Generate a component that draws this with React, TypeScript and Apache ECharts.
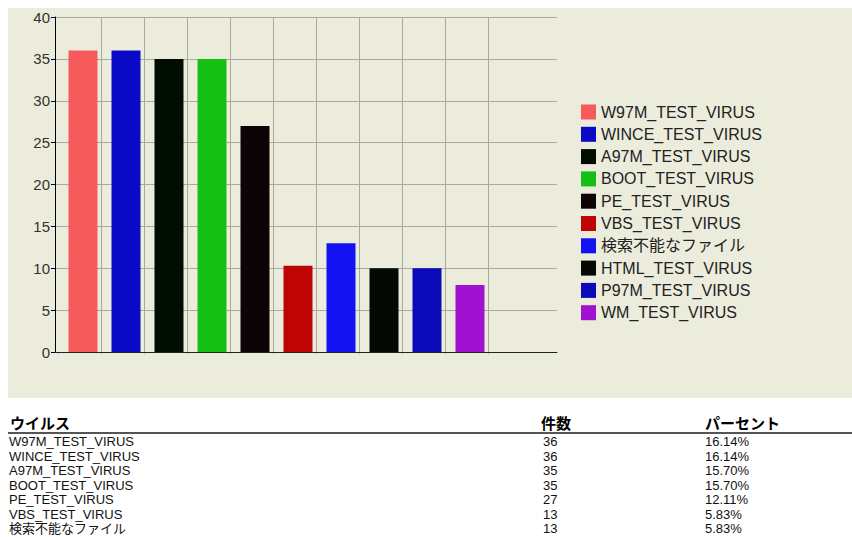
import React, { useEffect, useRef } from "react";
import * as echarts from "echarts";

const virusNames = [
  "W97M_TEST_VIRUS",
  "WINCE_TEST_VIRUS",
  "A97M_TEST_VIRUS",
  "BOOT_TEST_VIRUS",
  "PE_TEST_VIRUS",
  "VBS_TEST_VIRUS",
  "検索不能なファイル",
  "HTML_TEST_VIRUS",
  "P97M_TEST_VIRUS",
  "WM_TEST_VIRUS",
];
const barValues = [36, 36, 35, 35, 27, 10.3, 13, 10, 10, 8];
const barColors = [
  "#F75A5A",
  "#0A0AC6",
  "#020D02",
  "#14C014",
  "#0E0306",
  "#BE0404",
  "#1212F2",
  "#030A03",
  "#0A0AB8",
  "#A012D0",
];
const yMin = 0;
const yMax = 40;
const yStep = 5;

const tableHeaders = ["ウイルス", "件数", "パーセント"];
const tableNames = [
  "W97M_TEST_VIRUS",
  "WINCE_TEST_VIRUS",
  "A97M_TEST_VIRUS",
  "BOOT_TEST_VIRUS",
  "PE_TEST_VIRUS",
  "VBS_TEST_VIRUS",
  "検索不能なファイル",
];
const tableCounts = ["36", "36", "35", "35", "27", "13", "13"];
const tablePercents = ["16.14%", "16.14%", "15.70%", "15.70%", "12.11%", "5.83%", "5.83%"];

const FONT = '"Liberation Sans", Arial, "Noto Sans CJK JP", sans-serif';
const GRID_COLOR = "#A9A9A1";

function Chart() {
  const ref = useRef<HTMLDivElement>(null);
  useEffect(() => {
    if (!ref.current) return;
    const chart = echarts.init(ref.current, undefined, { renderer: "svg" });
    const pad: any = {
      name: "__pad",
      type: "bar",
      xAxisIndex: 1,
      yAxisIndex: 1,
      barWidth: 7,
      barGap: "0%",
      silent: true,
      data: virusNames.map(() => "-"),
    };
    const seriesList: any[] = virusNames.map((n, i) => ({
      name: n,
      type: "bar",
      xAxisIndex: 1,
      yAxisIndex: 1,
      stack: "v",
      barWidth: 29,
      barGap: "0%",
      itemStyle: { color: barColors[i] },
      data: virusNames.map((_, j) => (j === i ? barValues[i] : "-")),
    }));
    chart.setOption({
      animation: false,
      backgroundColor: "transparent",
      grid: [
        { left: 47, top: 9, width: 502, height: 335 },
        { left: 50, top: 9, width: 430, height: 335 },
      ],
      legend: {
        data: virusNames,
        orient: "vertical",
        left: 573,
        top: 96,
        padding: 0,
        itemWidth: 15,
        itemHeight: 15,
        itemGap: 6.3,
        icon: "rect",
        selectedMode: false,
        textStyle: { fontFamily: FONT, fontSize: 16, lineHeight: 16, color: "#222" },
      },
      xAxis: [
        {
          gridIndex: 0,
          type: "value",
          min: 0,
          max: 1,
          z: 5,
          axisLine: { show: true, lineStyle: { color: "#222", width: 1 } },
          axisTick: { show: false },
          axisLabel: { show: false },
          splitLine: { show: false },
        },
        {
          gridIndex: 1,
          type: "category",
          data: virusNames,
          boundaryGap: true,
          axisLine: { show: false },
          axisLabel: { show: false },
          axisTick: { show: true, interval: 0, length: 3, lineStyle: { color: "#CFCFC4" } },
          splitLine: {
            show: true,
            interval: 0,
            showMinLine: false,
            lineStyle: { color: GRID_COLOR, width: 1 },
          },
        },
      ],
      yAxis: [
        {
          gridIndex: 0,
          type: "value",
          min: yMin,
          max: yMax,
          interval: yStep,
          axisLine: { show: true, lineStyle: { color: "#000", width: 1 } },
          axisTick: { show: true, length: 4, lineStyle: { color: "#000" } },
          axisLabel: { fontFamily: FONT, fontSize: 15, color: "#333", margin: 5 },
          splitLine: { show: true, lineStyle: { color: GRID_COLOR, width: 1 } },
        },
        {
          gridIndex: 1,
          type: "value",
          min: yMin,
          max: yMax,
          interval: yStep,
          show: false,
          splitLine: { show: false },
        },
      ],
      series: [pad, ...seriesList],
    });
    return () => chart.dispose();
  }, []);
  return <div ref={ref} style={{ position: "absolute", left: 0, top: 0, width: 844, height: 390 }} />;
}

export default function App() {
  const cell = (text: string, left: number, top: number, extra: any = {}) => (
    <div
      key={`${text}-${left}-${top}`}
      style={{
        position: "absolute",
        left,
        top,
        height: 16,
        lineHeight: "16px",
        fontFamily: FONT,
        fontSize: 13,
        color: "#111",
        whiteSpace: "nowrap",
        ...extra,
      }}
    >
      {text}
    </div>
  );
  const colX = [1, 535, 697];
  const headX = [2, 533, 697];
  const rowTop = (i: number) => 426 + i * 14.5;
  return (
    <div
      style={{
        position: "fixed",
        left: 8,
        top: 8,
        width: 844,
        height: 529,
        overflow: "hidden",
        background: "#fff",
      }}
    >
      <div style={{ position: "absolute", left: 0, top: 0, width: 844, height: 390, background: "#ECECDC" }} />
      <Chart />
      {tableHeaders.map((h, i) =>
        cell(h, headX[i], 406, {
          fontFamily: '"Noto Sans CJK JP", sans-serif',
          fontWeight: 700,
          fontSize: 15,
          height: 18,
          lineHeight: "18px",
          color: "#000",
        })
      )}
      <div style={{ position: "absolute", left: 0, top: 424, width: 844, height: 2, background: "#555" }} />
      {tableNames.map((n, i) => cell(n, colX[0], rowTop(i)))}
      {tableCounts.map((n, i) => cell(n, colX[1], rowTop(i)))}
      {tablePercents.map((n, i) => cell(n, colX[2], rowTop(i)))}
    </div>
  );
}
